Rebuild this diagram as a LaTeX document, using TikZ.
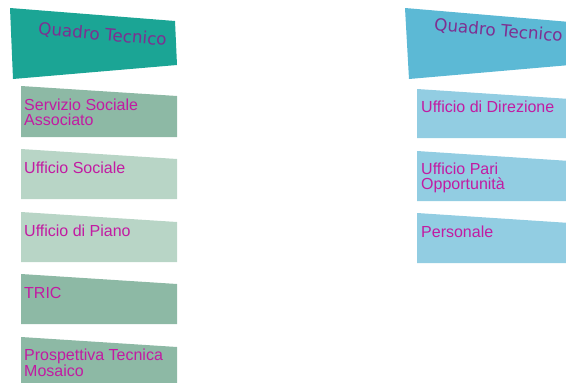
\documentclass[tikz,border=0pt]{standalone}
\usepackage{fontspec}
\setmainfont{Liberation Sans}
\newfontfamily\headfont{DejaVu Sans}
\usetikzlibrary{positioning}
\definecolor{headTeal}{HTML}{1BA595}
\definecolor{headBlue}{HTML}{5CB9D5}
\definecolor{darkSage}{HTML}{8DB9A5}
\definecolor{lightSage}{HTML}{B8D5C6}
\definecolor{paleBlue}{HTML}{92CDE2}
\definecolor{officeText}{HTML}{C21BA2}
\definecolor{headText}{HTML}{7E2F91}
% colour, left, right, top, bottom (the top edge drops by 10 to the right)
\newcommand{\officebox}[5]{\fill[#1] (#2,#4) -- (#3,#4+10) -- (#3,#5) -- (#2,#5) -- cycle;}
\tikzset{
    officeLabel/.style={anchor=north west, inner sep=0pt, align=left,
        text=officeText, font=\fontsize{16}{14.7}\selectfont},
    headLabel/.style={inner sep=0pt, rotate=-5, text=headText,
        font=\headfont\fontsize{16.8}{16.8}\selectfont}
}

\begin{document}
\begin{tikzpicture}[x=1pt,y=-1pt]
    \useasboundingbox (0,0) rectangle (566,383);
    \def\rowOne{86}
    \def\rowTwo{149}
    \def\rowThree{212}
    \def\rowFour{274}
    \def\rowFive{337}
    \def\sideOne{89}
    \def\sideTwo{151}
    \def\sideThree{213}
    % the two headers
    \fill[headTeal] (10,8) -- (175,21) -- (177,65) -- (13,79) -- cycle;
    \fill[headBlue] (405,8) -- (570,22) -- (570,65) -- (409,79) -- cycle;
    \node[headLabel] (leftHead) at (102.5,35) {Quadro Tecnico};
    \node[headLabel] (rightHead) at (498.5,31) {Quadro Tecnico};
    % left column
    \officebox{darkSage}{21}{177}{\rowOne}{137}
    \officebox{lightSage}{21}{177}{\rowTwo}{199}
    \officebox{lightSage}{21}{177}{\rowThree}{262}
    \officebox{darkSage}{21}{177}{\rowFour}{324}
    \officebox{darkSage}{21}{177}{\rowFive}{390}
    \node[officeLabel] (servizio) at (24,\rowOne+13) {Servizio Sociale\\Associato};
    \node[officeLabel] (sociale) at (24,\rowTwo+13) {Ufficio Sociale};
    \node[officeLabel] (piano) at (24,\rowThree+13) {Ufficio di Piano};
    \node[officeLabel] (tric) at (24,\rowFour+13) {TRIC};
    \node[officeLabel] (mosaico) at (24,\rowFive+12) {Prospettiva Tecnica\\Mosaico};
    % right column
    \officebox{paleBlue}{417}{570}{\sideOne}{138}
    \officebox{paleBlue}{417}{570}{\sideTwo}{201}
    \officebox{paleBlue}{417}{570}{\sideThree}{263}
    \node[officeLabel] (direzione) at (421,\sideOne+11.5) {Ufficio di Direzione};
    \node[officeLabel] (pari) at (421,\sideTwo+12) {Ufficio Pari\\Opportunità};
    \node[officeLabel] (personale) at (421,\sideThree+13) {Personale};
\end{tikzpicture}
\end{document}
